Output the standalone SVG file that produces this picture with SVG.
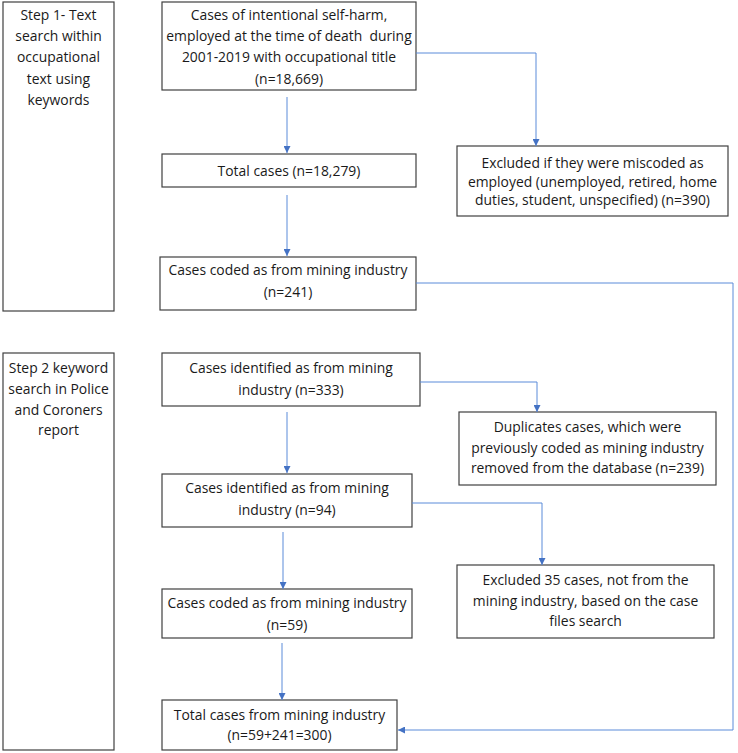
<svg xmlns="http://www.w3.org/2000/svg" width="738" height="753" viewBox="0 0 738 753">
<defs>
<style>
.box{fill:#fff;stroke:#404040;stroke-width:1.2}
.t{font-family:"Open Sans","Liberation Sans",Arial,sans-serif;font-size:13.9px;fill:#1a1a1a;text-anchor:middle}
.c{fill:none;stroke:#5b8bd9;stroke-width:1}
</style>
<marker id="ah" viewBox="0 0 10 10" refX="10" refY="5" markerWidth="7" markerHeight="7" markerUnits="userSpaceOnUse" orient="auto">
<path d="M0,0 L10,5 L0,10 z" fill="#4472c4"/>
</marker>
</defs>
<rect width="738" height="753" fill="#fff"/>
<g id="step1">
<rect class="box" x="3" y="2" width="111" height="309"/>
<text class="t"><tspan x="58.5" y="20">Step 1- Text</tspan><tspan x="58.5" y="41">search within</tspan><tspan x="58.5" y="62">occupational</tspan><tspan x="58.5" y="84">text using</tspan><tspan x="58.5" y="105">keywords</tspan></text>
</g>
<g id="step2">
<rect class="box" x="3" y="353" width="111" height="397"/>
<text class="t"><tspan x="58.5" y="373">Step 2 keyword</tspan><tspan x="58.5" y="394">search in Police</tspan><tspan x="58.5" y="415">and Coroners</tspan><tspan x="58.5" y="435">report</tspan></text>
</g>
<g id="nA">
<rect class="box" x="162" y="2" width="254" height="88"/>
<text class="t" xml:space="preserve"><tspan x="289" y="20">Cases of intentional self-harm,</tspan><tspan x="289" y="41">employed at the time of death  during</tspan><tspan x="289" y="62">2001-2019 with occupational title</tspan><tspan x="289" y="84">(n=18,669)</tspan></text>
</g>
<g id="nB">
<rect class="box" x="162" y="154" width="254" height="33"/>
<text class="t" x="289" y="176">Total cases (n=18,279)</text>
</g>
<g id="nC">
<rect class="box" x="160" y="257" width="256" height="53"/>
<text class="t"><tspan x="288" y="275">Cases coded as from mining industry</tspan><tspan x="288" y="297">(n=241)</tspan></text>
</g>
<g id="nD">
<rect class="box" x="457" y="146" width="271" height="70"/>
<text class="t"><tspan x="592.5" y="168">Excluded if they were miscoded as</tspan><tspan x="592.5" y="187">employed (unemployed, retired, home</tspan><tspan x="592.5" y="205">duties, student, unspecified) (n=390)</tspan></text>
</g>
<g id="nE">
<rect class="box" x="162" y="353" width="258" height="53"/>
<text class="t"><tspan x="291" y="373">Cases identified as from mining</tspan><tspan x="291" y="395">industry (n=333)</tspan></text>
</g>
<g id="nF">
<rect class="box" x="162" y="474" width="250" height="53"/>
<text class="t"><tspan x="287" y="493">Cases identified as from mining</tspan><tspan x="287" y="515">industry (n=94)</tspan></text>
</g>
<g id="nG">
<rect class="box" x="459" y="412" width="257" height="73"/>
<text class="t"><tspan x="587.5" y="432">Duplicates cases, which were</tspan><tspan x="587.5" y="453">previously coded as mining industry</tspan><tspan x="587.5" y="473">removed from the database (n=239)</tspan></text>
</g>
<g id="nH">
<rect class="box" x="457" y="565" width="257" height="73"/>
<text class="t"><tspan x="585.5" y="585">Excluded 35 cases, not from the</tspan><tspan x="585.5" y="606">mining industry, based on the case</tspan><tspan x="585.5" y="626">files search</tspan></text>
</g>
<g id="nI">
<rect class="box" x="162" y="589" width="250" height="49"/>
<text class="t"><tspan x="287" y="608">Cases coded as from mining industry</tspan><tspan x="287" y="630">(n=59)</tspan></text>
</g>
<g id="nJ">
<rect class="box" x="162" y="700" width="235" height="50"/>
<text class="t"><tspan x="279.5" y="720">Total cases from mining industry</tspan><tspan x="279.5" y="740">(n=59+241=300)</tspan></text>
</g>
<g id="connectors">
<path class="c" d="M287,97 V153" marker-end="url(#ah)"/>
<path class="c" d="M287,195 V256" marker-end="url(#ah)"/>
<path class="c" d="M416,53 H536 V146" marker-end="url(#ah)"/>
<path class="c" d="M416,283 H733 V730 H398" marker-end="url(#ah)"/>
<path class="c" d="M287,412 V473" marker-end="url(#ah)"/>
<path class="c" d="M420,382 H537 V412" marker-end="url(#ah)"/>
<path class="c" d="M412,503 H542 V565" marker-end="url(#ah)"/>
<path class="c" d="M283,532 V589" marker-end="url(#ah)"/>
<path class="c" d="M282,643 V700" marker-end="url(#ah)"/>
</g>
</svg>
